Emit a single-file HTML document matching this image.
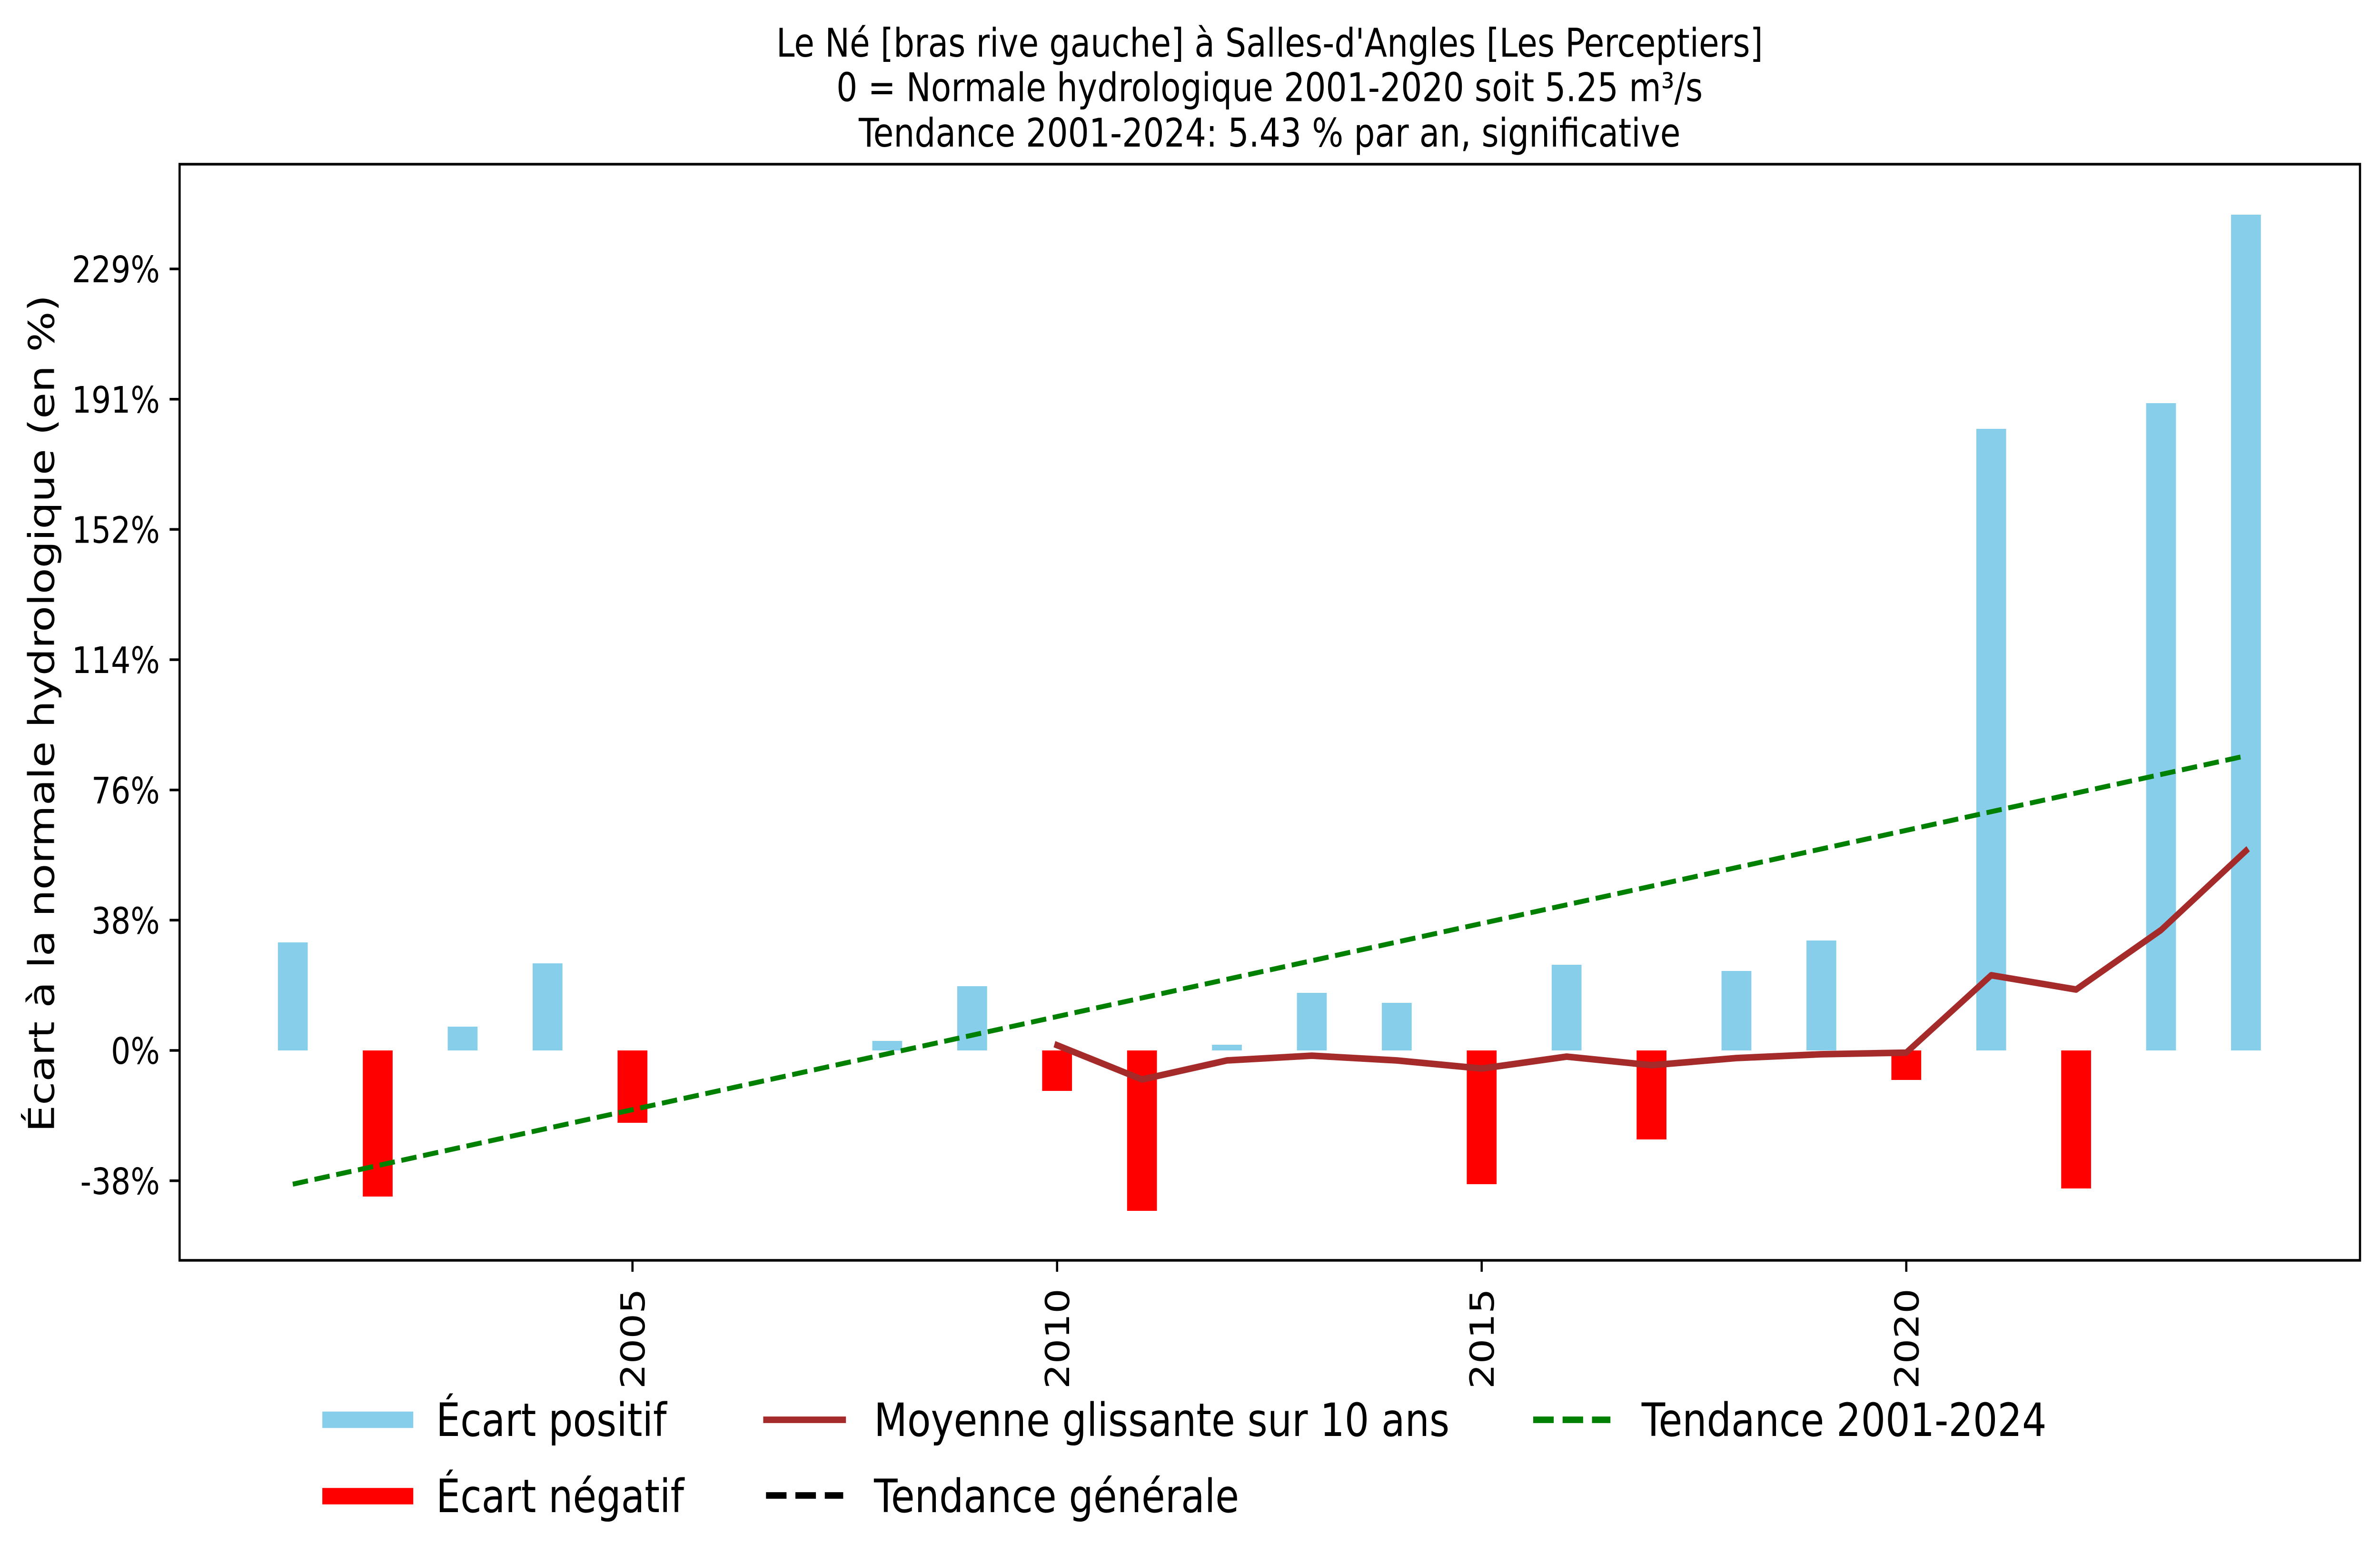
<!DOCTYPE html>
<html>
<head>
<meta charset="utf-8">
<meta name="viewport" content="width=5950, initial-scale=1">
<style>
  html, body { margin: 0; padding: 0; background: #ffffff; overflow: hidden; width: 100%; height: 100%; }
  svg { display: block; width: 100vw; height: 100vh; }
  text { font-family: "DejaVu Sans", "Liberation Sans", sans-serif; fill: #000; }
</style>
</head>
<body>
<svg viewBox="0 0 5950 3286" preserveAspectRatio="none" xmlns="http://www.w3.org/2000/svg">
  <rect x="0" y="0" width="5950" height="3286" fill="#ffffff"/>

  <!-- Title -->
  <g font-size="82.7" text-anchor="middle">
    <text x="3174" y="118.8">Le Né [bras rive gauche] à Salles-d'Angles [Les Perceptiers]</text>
    <text x="3174" y="212.5">0 = Normale hydrologique 2001-2020 soit 5.25 m³/s</text>
    <text x="3174" y="308">Tendance 2001-2024: 5.43 % par an, significative</text>
  </g>

  <!-- Bars -->
  <g fill="#87CEEB">
    <rect x="694.7" y="1980" width="74.6" height="227"/>
    <rect x="1119.3" y="2157" width="74.6" height="50"/>
    <rect x="1331.6" y="2024" width="74.6" height="183"/>
    <rect x="2180.8" y="2187" width="74.6" height="20"/>
    <rect x="2393.1" y="2072" width="74.6" height="135"/>
    <rect x="3030" y="2195" width="74.6" height="12"/>
    <rect x="3242.3" y="2086" width="74.6" height="121"/>
    <rect x="3454.6" y="2107" width="74.6" height="100"/>
    <rect x="3879.2" y="2027" width="74.6" height="180"/>
    <rect x="4303.8" y="2040" width="74.6" height="167"/>
    <rect x="4516.1" y="1976" width="74.6" height="231"/>
    <rect x="4940.7" y="901" width="74.6" height="1306"/>
    <rect x="5365.3" y="847" width="74.6" height="1360"/>
    <rect x="5577.6" y="451" width="74.6" height="1756"/>
  </g>
  <g fill="#FF0000">
    <rect x="907" y="2207" width="74.6" height="307"/>
    <rect x="1543.9" y="2207" width="74.6" height="152"/>
    <rect x="2605.4" y="2207" width="74.6" height="85"/>
    <rect x="2817.7" y="2207" width="74.6" height="337"/>
    <rect x="3666.9" y="2207" width="74.6" height="281"/>
    <rect x="4091.5" y="2207" width="74.6" height="187"/>
    <rect x="4728.4" y="2207" width="74.6" height="62"/>
    <rect x="5153" y="2207" width="74.6" height="290"/>
  </g>

  <!-- Moving average -->
  <polyline fill="none" stroke="#A52A2A" stroke-width="13.8" stroke-linejoin="round" stroke-linecap="square"
    points="2642.7,2196 2855,2268 3067.3,2228 3279.6,2218 3491.9,2228 3704.2,2245 3916.5,2220 4128.8,2238 4341.1,2223 4553.4,2215 4765.7,2211.6 4978,2049 5190.3,2079 5402.6,1954 5614.9,1787.5"/>

  <!-- Trend 2001-2024 -->
  <line x1="732" y1="2488" x2="5614.9" y2="1588" stroke="#008000" stroke-width="10.4" stroke-dasharray="38.5 16.7" stroke-linecap="butt"/>

  <!-- Axes spines -->
  <rect x="449" y="345" width="5451" height="2303" fill="none" stroke="#000" stroke-width="5.5"/>

  <!-- Y ticks -->
  <g stroke="#000" stroke-width="5.5">
    <line x1="424" y1="565" x2="449" y2="565"/>
    <line x1="424" y1="838.7" x2="449" y2="838.7"/>
    <line x1="424" y1="1112.3" x2="449" y2="1112.3"/>
    <line x1="424" y1="1386" x2="449" y2="1386"/>
    <line x1="424" y1="1659.7" x2="449" y2="1659.7"/>
    <line x1="424" y1="1933.3" x2="449" y2="1933.3"/>
    <line x1="424" y1="2207" x2="449" y2="2207"/>
    <line x1="424" y1="2480.7" x2="449" y2="2480.7"/>
  </g>
  <g font-size="77" text-anchor="end">
    <text x="399.6" y="593.1">229%</text>
    <text x="399.6" y="866.8">191%</text>
    <text x="399.6" y="1140.4">152%</text>
    <text x="399.6" y="1414.1">114%</text>
    <text x="399.6" y="1687.8">76%</text>
    <text x="399.6" y="1961.4">38%</text>
    <text x="399.6" y="2235.1">0%</text>
    <text x="399.6" y="2508.8">-38%</text>
  </g>

  <!-- X ticks -->
  <g stroke="#000" stroke-width="5.5">
    <line x1="1581.2" y1="2648" x2="1581.2" y2="2672"/>
    <line x1="2642.7" y1="2648" x2="2642.7" y2="2672"/>
    <line x1="3704.2" y1="2648" x2="3704.2" y2="2672"/>
    <line x1="4765.7" y1="2648" x2="4765.7" y2="2672"/>
  </g>
  <g font-size="83" text-anchor="end">
    <text transform="translate(1611.5,2707) rotate(-90)">2005</text>
    <text transform="translate(2673,2707) rotate(-90)">2010</text>
    <text transform="translate(3734.5,2707) rotate(-90)">2015</text>
    <text transform="translate(4796,2707) rotate(-90)">2020</text>
  </g>

  <!-- Y label -->
  <text font-size="89.5" text-anchor="middle" transform="translate(135,1499) rotate(-90)">Écart à la normale hydrologique (en %)</text>

  <!-- Legend -->
  <line x1="823" y1="2983" x2="1016" y2="2983" stroke="#87CEEB" stroke-width="34.4" stroke-linecap="square"/>
  <line x1="823" y1="3143.5" x2="1016" y2="3143.5" stroke="#FF0000" stroke-width="34.4" stroke-linecap="square"/>
  <line x1="1915" y1="2983" x2="2108" y2="2983" stroke="#A52A2A" stroke-width="13.8" stroke-linecap="square"/>
  <line x1="1915" y1="3142" x2="2108" y2="3142" stroke="#000000" stroke-width="13.8" stroke-dasharray="51.3 22.2" stroke-linecap="butt"/>
  <line x1="3833" y1="2983" x2="4026" y2="2983" stroke="#008000" stroke-width="13.8" stroke-dasharray="51.3 22.2" stroke-linecap="butt"/>
  <g font-size="96.4">
    <text x="1090" y="3017">Écart positif</text>
    <text x="1090" y="3177">Écart négatif</text>
    <text x="2185" y="3017">Moyenne glissante sur 10 ans</text>
    <text x="2185" y="3177">Tendance générale</text>
    <text x="4104" y="3017">Tendance 2001-2024</text>
  </g>
</svg>
</body>
</html>
